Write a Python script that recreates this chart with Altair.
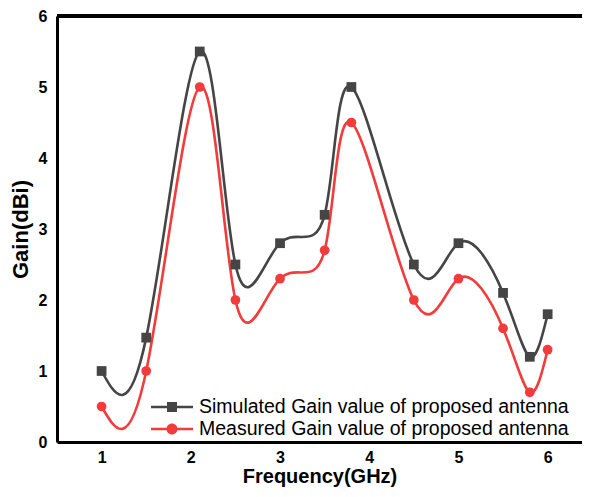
import altair as alt
import pandas as pd

freq = [1.0, 1.5, 2.1, 2.5, 3.0, 3.5, 3.8, 4.5, 5.0, 5.5, 5.8, 6.0]
simulated = [1.0, 1.47, 5.5, 2.5, 2.8, 3.2, 5.0, 2.5, 2.8, 2.1, 1.2, 1.8]
measured = [0.5, 1.0, 5.0, 2.0, 2.3, 2.7, 4.5, 2.0, 2.3, 1.6, 0.7, 1.3]
x_ticks = [1, 2, 3, 4, 5, 6]
y_ticks = [0, 1, 2, 3, 4, 5, 6]
s_name = "Simulated Gain value of proposed antenna"
m_name = "Measured Gain value of proposed antenna"

rows = []
for f, s, m in zip(freq, simulated, measured):
    rows.append({"f": f, "g": s, "series": s_name})
    rows.append({"f": f, "g": m, "series": m_name})
df = pd.DataFrame(rows)
leg_df = pd.DataFrame({"f": [-10, -10], "g": [-10, -10], "leg": [s_name, m_name]})

colors = ["#454545", "#f23b3b"]
sq_path = "M-2.1,-0.12H2.1V0.12H-2.1Z M-0.5,-0.5H0.5V0.5H-0.5Z"
ci_path = "M-2.1,-0.12H2.1V0.12H-2.1Z M0.55,0A0.55,0.55 0 1,1 -0.55,0A0.55,0.55 0 1,1 0.55,0Z"
FONT = "Liberation Sans, Arial, sans-serif"

x = alt.X("f:Q", scale=alt.Scale(domain=[0.5, 6.385], nice=False, zero=False),
          axis=alt.Axis(values=x_ticks, format="d", title="Frequency(GHz)", grid=False,
                        ticks=False, domainWidth=3, domainColor="black",
                        labelFont=FONT, labelFontSize=16, labelFontWeight="bold",
                        labelColor="black", labelPadding=7,
                        titleFont=FONT, titleFontSize=20, titleFontWeight="bold",
                        titleColor="black", titlePadding=1))
y = alt.Y("g:Q", scale=alt.Scale(domain=[0, 6], nice=False),
          axis=alt.Axis(values=y_ticks, format="d", title="Gain(dBi)", grid=False,
                        ticks=False, domainWidth=3, domainColor="black",
                        labelFont=FONT, labelFontSize=16, labelFontWeight="bold",
                        labelColor="black", labelPadding=10,
                        titleFont=FONT, titleFontSize=22, titleFontWeight="bold",
                        titleColor="black", titlePadding=6))

series_color = alt.Color("series:N", scale=alt.Scale(domain=[s_name, m_name], range=colors), legend=None)

lines = alt.Chart(df).mark_line(interpolate="natural", strokeWidth=2.6).encode(
    x=x, y=y, color=series_color)
points = alt.Chart(df).mark_point(filled=True, size=95, opacity=1).encode(
    x=x, y=y, color=series_color,
    shape=alt.Shape("series:N", scale=alt.Scale(domain=[s_name, m_name], range=["square", "circle"]), legend=None))
top = alt.Chart(df).mark_rule(color="black", strokeWidth=3).encode(y=alt.datum(6))

legend_cfg = dict(title=None, orient="none", legendX=105, legendY=381,
                  labelFont=FONT, labelFontSize=19.5, labelLimit=0,
                  labelColor="black", labelOffset=17, padding=0,
                  rowPadding=2, symbolSize=400, symbolStrokeWidth=0, symbolOpacity=1)
leg = alt.Chart(leg_df).mark_point(filled=True, clip=True, size=400, strokeWidth=0, opacity=1).encode(
    x=alt.X("f:Q"), y=alt.Y("g:Q"),
    color=alt.Color("leg:N", scale=alt.Scale(domain=[s_name, m_name], range=colors),
                    legend=alt.Legend(**legend_cfg)),
    shape=alt.Shape("leg:N", scale=alt.Scale(domain=[s_name, m_name], range=[sq_path, ci_path]),
                    legend=alt.Legend(**legend_cfg)))

chart = alt.layer(lines, points, top, leg).resolve_scale(
    color="independent", shape="independent"
).properties(
    width=525, height=426,
    autosize=alt.AutoSizeParams(type="none"),
    padding={"left": 49, "top": 8, "right": 0, "bottom": 47},
).configure_view(stroke=None)

chart.save("out.html", embed_options={"renderer": "svg", "actions": False})
